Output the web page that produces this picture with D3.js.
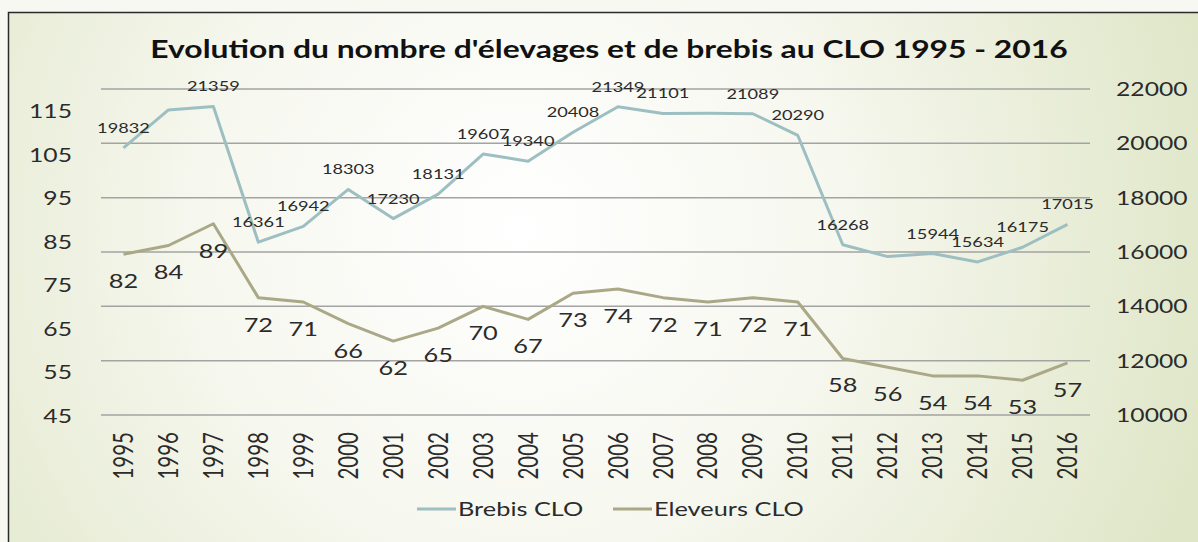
<!DOCTYPE html>
<html>
<head>
<meta charset="utf-8">
<script src="https://cdn.jsdelivr.net/npm/d3@7"></script>
<style>
	body { margin: 0; background: #f8f8f2; }
	svg { display: block; font-family: Lato, 'Open Sans', sans-serif; }
	text { fill: #2b2b2b; }
</style>
</head>
<body>
<svg id="chart" width="1198" height="542"></svg>
<script>
'use strict';

// Values
var years = ['1995', '1996', '1997', '1998', '1999', '2000', '2001', '2002', '2003', '2004', '2005',
	'2006', '2007', '2008', '2009', '2010', '2011', '2012', '2013', '2014', '2015', '2016'];
var brebis = [19832, 21230, 21359, 16361, 16942, 18303, 17230, 18131, 19607, 19340, 20408,
	21349, 21101, 21105, 21089, 20290, 16268, 15830, 15944, 15634, 16175, 17015];
// years without a label in the original picture are left empty
var brebis_labels = ['19832', '', '21359', '16361', '16942', '18303', '17230', '18131', '19607', '19340', '20408',
	'21349', '21101', '', '21089', '20290', '16268', '', '15944', '15634', '16175', '17015'];
var eleveurs = [82, 84, 89, 72, 71, 66, 62, 65, 70, 67, 73, 74, 72, 71, 72, 71, 58, 56, 54, 54, 53, 57];
var left_ticks = [45, 55, 65, 75, 85, 95, 105, 115];
var right_ticks = [10000, 12000, 14000, 16000, 18000, 20000, 22000];
var series_names = ['Brebis CLO', 'Eleveurs CLO'];
var series_colours = ['#9dbfc1', '#aaa886'];

var title = "Evolution du nombre d'élevages et de brebis au CLO 1995 - 2016";

var sx = 1.3; // the picture is stretched sideways, so is the text

var svg = d3.select('#chart');

//===============================================================
// Background and frame
//===============================================================
var defs = svg.append('defs');
var grad = defs.append('radialGradient')
	.attr('id', 'bg')
	.attr('gradientUnits', 'userSpaceOnUse')
	.attr('cx', 520).attr('cy', 230).attr('r', 720);
grad.append('stop').attr('offset', '0').attr('stop-color', '#ffffff');
grad.append('stop').attr('offset', '0.45').attr('stop-color', '#f6f7ee');
grad.append('stop').attr('offset', '1').attr('stop-color', '#dfe6c7');

svg.append('rect')
	.attr('x', 8).attr('y', 12)
	.attr('width', 1190).attr('height', 530)
	.attr('fill', 'url(#bg)');
svg.append('path')
	.attr('d', 'M8.5,542 V12.5 H1198')
	.attr('fill', 'none')
	.attr('stroke', '#2a2a2a')
	.attr('stroke-width', 1.5);

//===============================================================
// Scales
//===============================================================
var x_scale = d3.scaleBand().domain(years).range([101, 1090]).padding(0);
var y_left = d3.scaleLinear().domain([45, 120]).range([415, 89]);
var y_right = d3.scaleLinear().domain([10000, 22000]).range([415, 89]);

function cx(d, i) { return x_scale(years[i]) + x_scale.bandwidth() / 2; }

// small helper: text with a sideways stretch
function putText(g, x, y, txt, size, anchor) {
	return g.append('text')
		.attr('transform', 'translate(' + x + ',' + y + ') scale(' + sx + ',1)')
		.attr('text-anchor', anchor)
		.style('font-size', size + 'px')
		.text(txt);
}

//===============================================================
// Gridlines and axes
//===============================================================
svg.append('g').selectAll('line')
	.data(right_ticks)
	.enter().append('line')
	.attr('x1', 101).attr('x2', 1090)
	.attr('y1', function(d) { return y_right(d); })
	.attr('y2', function(d) { return y_right(d); })
	.attr('stroke', '#a3a3a3')
	.attr('stroke-width', 1.5);

var left_axis = svg.append('g');
left_ticks.forEach(function(t) {
	putText(left_axis, 72, y_left(t) + 7.5, t, 19, 'end');
});

var right_axis = svg.append('g');
right_ticks.forEach(function(t) {
	putText(right_axis, 1116, y_right(t) + 7, t, 19, 'start');
});

var x_axis = svg.append('g');
years.forEach(function(yr, i) {
	x_axis.append('text')
		.attr('transform', 'translate(' + cx(null, i) + ',432) scale(' + sx + ',1) rotate(-90)')
		.attr('text-anchor', 'end')
		.attr('dy', '0.36em')
		.style('font-size', '20.5px')
		.text(yr);
});

//===============================================================
// Lines
//===============================================================
var brebis_line = d3.line()
	.x(cx)
	.y(function(d) { return y_right(d); });
var eleveurs_line = d3.line()
	.x(cx)
	.y(function(d) { return y_left(d); });

svg.append('path')
	.datum(brebis)
	.attr('d', brebis_line)
	.attr('fill', 'none')
	.attr('stroke', series_colours[0])
	.attr('stroke-width', 3)
	.attr('stroke-linejoin', 'round');

svg.append('path')
	.datum(eleveurs)
	.attr('d', eleveurs_line)
	.attr('fill', 'none')
	.attr('stroke', series_colours[1])
	.attr('stroke-width', 3)
	.attr('stroke-linejoin', 'round');

// Data labels
var brebis_g = svg.append('g');
brebis.forEach(function(v, i) {
	if (brebis_labels[i] === '') return;
	putText(brebis_g, cx(v, i), y_right(v) - 15, brebis_labels[i], 14, 'middle');
});

var eleveurs_g = svg.append('g');
eleveurs.forEach(function(v, i) {
	putText(eleveurs_g, cx(v, i), y_left(v) + 34, v, 19.5, 'middle');
});

//===============================================================
// Title and legend
//===============================================================
var title_text = svg.append('text')
	.attr('text-anchor', 'middle')
	.style('font-size', '25px')
	.style('font-weight', 'bold')
	.style('fill', '#111')
	.text(title);
var title_len = title_text.node().getComputedTextLength();
title_text.attr('transform', 'translate(609,58) scale(' + (918 / title_len) + ',1)');

var legend = svg.append('g');
var legend_x = [417, 613];
series_names.forEach(function(name, i) {
	legend.append('line')
		.attr('x1', legend_x[i]).attr('x2', legend_x[i] + 39)
		.attr('y1', 509).attr('y2', 509)
		.attr('stroke', series_colours[i])
		.attr('stroke-width', 3);
	putText(legend, legend_x[i] + 41, 516, name, 19.5, 'start');
});
</script>
</body>
</html>
